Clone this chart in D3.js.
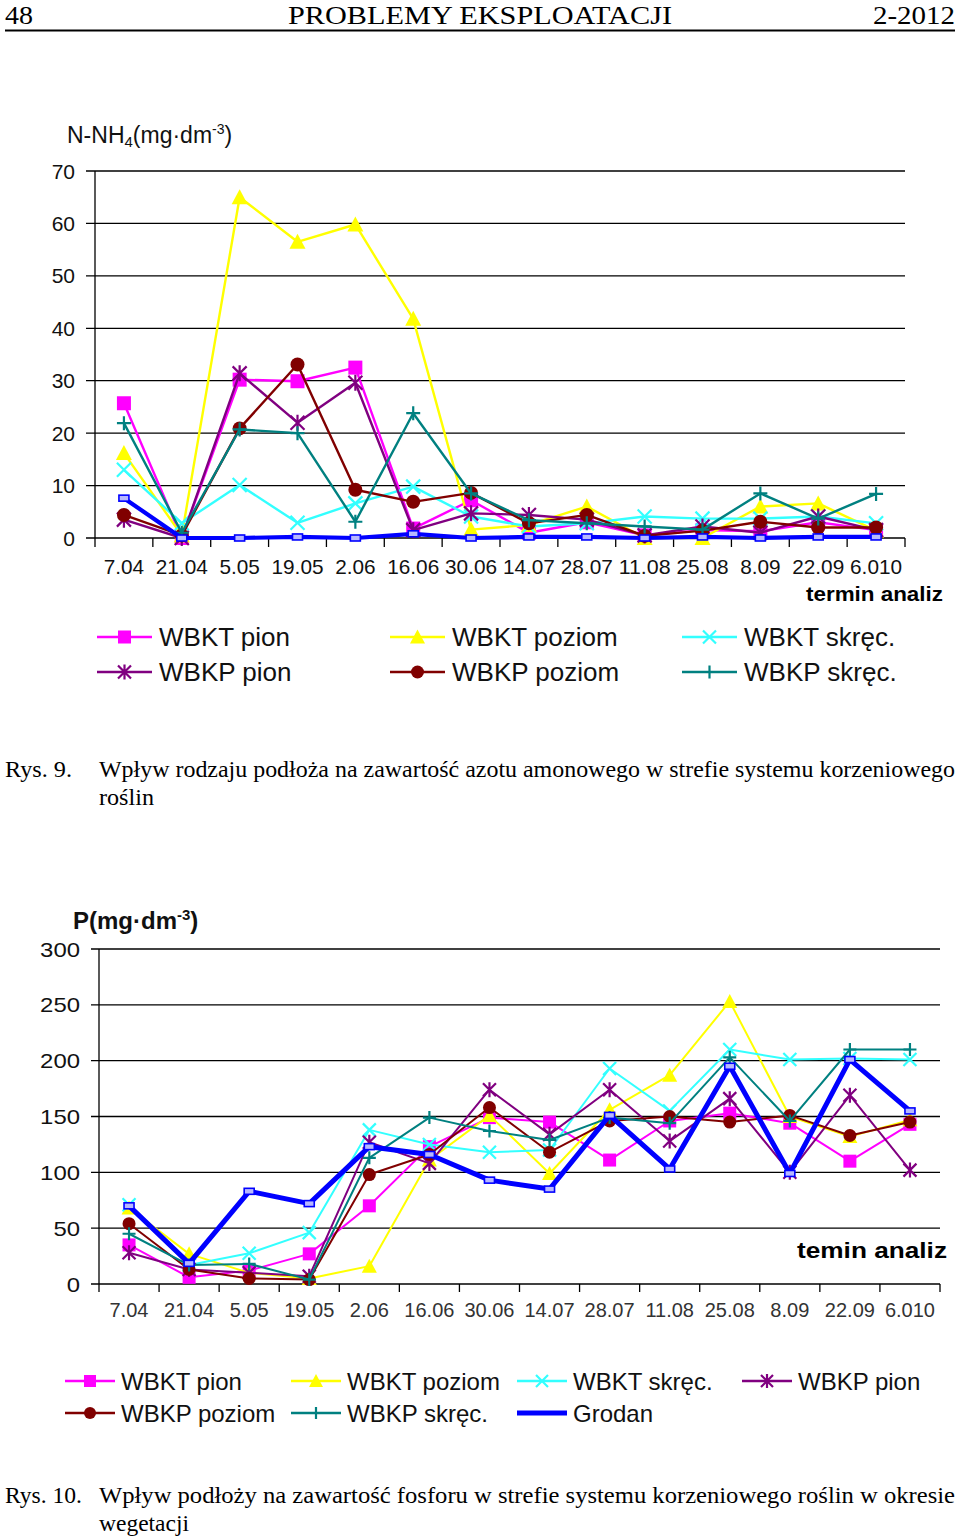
<!DOCTYPE html>
<html><head><meta charset="utf-8">
<script src="https://cdn.jsdelivr.net/npm/d3@7"></script>
<style>body{margin:0;background:#fff}svg{display:block}</style>
</head><body>
<script>
// ---------- DATA ----------
const categories = ["7.04","21.04","5.05","19.05","2.06","16.06","30.06","14.07","28.07","11.08","25.08","8.09","22.09","6.010"];
const seriesNames = ["WBKT pion","WBKT poziom","WBKT skręc.","WBKP pion","WBKP poziom","WBKP skręc.","Grodan"];
// Rys. 9: N-NH4 (mg·dm-3)
const nWbktPion   = [25.7, 0, 30.2, 29.9, 32.5, 1.8, 7.2, 1, 3, 0.5, 1.5, 1.3, 3, 1.5];
const nWbktPoziom = [16.2, 0.5, 65, 56.5, 59.8, 41.8, 1.6, 2.5, 6, 0, 0, 6, 6.6, 1.4];
const nWbktSkrec  = [13, 2.8, 10.1, 2.9, 6.6, 9.8, 4.1, 2.2, 2.8, 4.1, 3.7, 3.7, 4.1, 2.8];
const nWbkpPion   = [3.5, 0, 31.4, 22, 29.6, 1.5, 4.7, 4.4, 3.5, 0.5, 2.2, 1, 4.1, 1.5];
const nWbkpPoziom = [4.4, 0.5, 20.9, 33.1, 9.2, 6.9, 8.6, 2.8, 4.4, 0.4, 1.4, 3.1, 2, 2];
const nWbkpSkrec  = [21.9, 1, 20.7, 20, 3.1, 23.8, 8.5, 3.4, 2.8, 2.2, 1.6, 8.5, 3.7, 8.4];
const nGrodan     = [7.6, 0, 0, 0.2, 0, 0.8, 0, 0.2, 0.2, 0, 0.2, 0, 0.2, 0.2];
const nTicks = [0,10,20,30,40,50,60,70];
// Rys. 10: P (mg·dm-3)
const pWbktPion   = [35, 6, 12, 27, 70, 123, 149, 145, 111, 146, 153, 144, 110, 143];
const pWbktPoziom = [68, 27, 10, 5, 16, 111, 151, 99, 156, 187, 253, 150, 132, 147];
const pWbktSkrec  = [71, 17, 27.5, 46, 138, 125, 118, 120, 193, 155, 210, 201, 202, 201];
const pWbkpPion   = [28, 13, 10, 7, 127, 108, 174, 134, 174, 128, 166, 100, 169, 102];
const pWbkpPoziom = [54, 13, 5, 4, 98, 116, 158, 118, 146, 150, 145, 151, 133, 145];
const pWbkpSkrec  = [45, 17, 18, 4, 113, 149, 137, 129, 149, 144, 203, 146, 210, 210];
const pGrodan     = [70, 18.5, 83, 72, 123, 116, 93, 85, 151, 103, 195, 99, 201, 155];
const pTicks = [0,50,100,150,200,250,300];

// ---------- STYLE ----------
const colors  = ["#ff00ff","#ffff00","#33ffff","#800080","#800000","#008080","#0000ff"];
const markers = ["square","triangle","x","asterisk","circle","plus","dash"];
const SANS = "'Liberation Sans', Arial, sans-serif";
const SERIF = "'Liberation Serif', 'Times New Roman', serif";

const svg = d3.select("body").append("svg").attr("width",960).attr("height",1537);

function txt(x,y,s,opt){
  opt = opt||{};
  const t = svg.append("text").attr("x",x).attr("y",y).text(s)
    .attr("font-family",opt.family||SANS).attr("font-size",opt.size||20)
    .attr("fill",opt.fill||"#000");
  if(opt.weight) t.attr("font-weight",opt.weight);
  if(opt.anchor) t.attr("text-anchor",opt.anchor);
  if(opt.len){ t.attr("textLength",opt.len).attr("lengthAdjust","spacingAndGlyphs"); }
  return t;
}

function marker(g, type, cx, cy, s, color){
  const h = s/2;
  if(type==="square"){
    g.append("rect").attr("x",cx-h).attr("y",cy-h).attr("width",s).attr("height",s).attr("fill",color);
  } else if(type==="triangle"){
    g.append("path").attr("d",`M${cx},${cy-h-1}L${cx+h+1},${cy+h}L${cx-h-1},${cy+h}Z`).attr("fill",color);
  } else if(type==="circle"){
    g.append("circle").attr("cx",cx).attr("cy",cy).attr("r",h).attr("fill",color);
  } else if(type==="x" || type==="asterisk"){
    const p = `M${cx-h},${cy-h}L${cx+h},${cy+h}M${cx-h},${cy+h}L${cx+h},${cy-h}` + (type==="asterisk"?`M${cx},${cy-h-1}L${cx},${cy+h+1}`:"");
    g.append("path").attr("d",p).attr("stroke",color).attr("stroke-width",2.2).attr("fill","none");
  } else if(type==="plus"){
    g.append("path").attr("d",`M${cx-h},${cy}L${cx+h},${cy}M${cx},${cy-h}L${cx},${cy+h}`)
      .attr("stroke",color).attr("stroke-width",2.2).attr("fill","none");
  } else if(type==="dash"){
    g.append("rect").attr("x",cx-5).attr("y",cy-3).attr("width",10).attr("height",6)
      .attr("fill","#b8b8ff").attr("stroke",color).attr("stroke-width",1.6);
  }
}

function labelLen(s, digitW, dotW){
  let n=0; for(const ch of s) n += (ch==="." ? dotW : digitW); return n;
}

function chart(cfg){
  const x = d3.scaleBand().domain(categories).range([cfg.x0,cfg.x1]).padding(0);
  const y = d3.scaleLinear().domain([0,cfg.max]).range([cfg.y0,cfg.y1]);
  const g = svg.append("g");
  cfg.ticks.forEach(v=>{
    if(v>0) g.append("line").attr("x1",cfg.x0-cfg.tickL).attr("x2",cfg.x1).attr("y1",y(v)).attr("y2",y(v))
      .attr("stroke","#000").attr("stroke-width",1.3);
    const t = txt(cfg.x0-cfg.labGap, y(v)+cfg.ySize*0.36, String(v), {size:cfg.ySize, anchor:"end", fill:"#111"});
    if(cfg.yLenPerDigit) t.attr("textLength",String(v).length*cfg.yLenPerDigit).attr("lengthAdjust","spacingAndGlyphs");
  });
  g.append("line").attr("x1",cfg.x0-cfg.tickL).attr("x2",cfg.x1).attr("y1",y(0)).attr("y2",y(0)).attr("stroke","#000").attr("stroke-width",1.3);
  g.append("line").attr("x1",cfg.x0).attr("x2",cfg.x0).attr("y1",y(cfg.max)).attr("y2",y(0)+cfg.tickL).attr("stroke","#000").attr("stroke-width",1.3);
  categories.forEach(c=>{
    const xe = x(c)+x.bandwidth();
    g.append("line").attr("x1",xe).attr("x2",xe).attr("y1",y(0)).attr("y2",y(0)+cfg.tickL).attr("stroke","#000").attr("stroke-width",1.3);
    txt(x(c)+x.bandwidth()/2, cfg.xLabY, c, {size:cfg.xSize, anchor:"middle", fill:cfg.xFill,
      len: cfg.xDigitW ? labelLen(c, cfg.xDigitW, cfg.xDotW) : null});
  });
  const line = d3.line().x((d,i)=>x(categories[i])+x.bandwidth()/2).y(d=>y(d));
  cfg.series.forEach((vals,k)=>{
    const sg = g.append("g");
    sg.append("path").attr("d",line(vals)).attr("fill","none").attr("stroke",colors[k])
      .attr("stroke-width", k===6?cfg.gw:cfg.lw).attr("stroke-linejoin","round");
    vals.forEach((v,i)=>marker(sg, markers[k], x(categories[i])+x.bandwidth()/2, y(v), cfg.ms, colors[k]));
  });
}

// ---------- HEADER ----------
txt(5,23.5,"48",{family:SERIF,size:25,len:28});
txt(288,23.5,"PROBLEMY  EKSPLOATACJI",{family:SERIF,size:25,len:384});
txt(955,23.5,"2-2012",{family:SERIF,size:25,anchor:"end",len:82});
svg.append("line").attr("x1",5).attr("x2",955).attr("y1",30.5).attr("y2",30.5).attr("stroke","#000").attr("stroke-width",2);

// ---------- CHART 1 ----------
const t1 = txt(67,143,"N-NH",{size:23,fill:"#111"});
t1.append("tspan").attr("font-size",15).attr("dy",4).text("4");
t1.append("tspan").attr("dy",-4).text("(mg·dm");
t1.append("tspan").attr("font-size",14).attr("dy",-9).text("-3");
t1.append("tspan").attr("dy",9).text(")");

chart({x0:95,x1:905,y0:538,y1:171,max:70,ticks:nTicks,tickL:9,labGap:20,ySize:21,
  xLabY:574,xSize:21,xFill:"#111",xDigitW:11.6,xDotW:5.6,lw:2.4,gw:4.2,ms:14,
  series:[nWbktPion,nWbktPoziom,nWbktSkrec,nWbkpPion,nWbkpPoziom,nWbkpSkrec,nGrodan]});
txt(806,601,"termin analiz",{size:21,weight:"bold",len:137});

const leg1 = [[0,97,637],[1,390,637],[2,682,637],[3,97,672],[4,390,672],[5,682,672]];
leg1.forEach(([k,lx,ly])=>{
  const g = svg.append("g");
  g.append("line").attr("x1",lx).attr("x2",lx+55).attr("y1",ly).attr("y2",ly).attr("stroke",colors[k]).attr("stroke-width",2.6);
  marker(g, markers[k], lx+27.5, ly, 13, colors[k]);
  txt(lx+62, ly+9, seriesNames[k], {size:26, fill:"#111"});
});

txt(5,777,"Rys. 9.",{family:SERIF,size:24,len:67});
txt(99,777,"Wpływ rodzaju podłoża na zawartość azotu amonowego w strefie systemu korzeniowego",{family:SERIF,size:24,len:856});
txt(99,805,"roślin",{family:SERIF,size:24,len:55});

// ---------- CHART 2 ----------
const t2 = txt(73,929,"P(mg·dm",{size:24,weight:"bold",fill:"#111"});
t2.append("tspan").attr("font-size",15).attr("dy",-9).text("-3");
t2.append("tspan").attr("dy",9).text(")");

chart({x0:99,x1:940,y0:1284,y1:949,max:300,ticks:pTicks,tickL:8,labGap:19,ySize:21,yLenPerDigit:13.3,
  xLabY:1317,xSize:20,xFill:"#333",lw:2,gw:5,ms:13,
  series:[pWbktPion,pWbktPoziom,pWbktSkrec,pWbkpPion,pWbkpPoziom,pWbkpSkrec,pGrodan]});
txt(797,1258,"temin analiz",{size:22,weight:"bold",len:150});

const leg2 = [[0,65,1381],[1,291,1381],[2,517,1381],[3,742,1381],[4,65,1413],[5,291,1413],[6,517,1413]];
leg2.forEach(([k,lx,ly])=>{
  const g = svg.append("g");
  g.append("line").attr("x1",lx).attr("x2",lx+50).attr("y1",ly).attr("y2",ly).attr("stroke",colors[k]).attr("stroke-width",k===6?5:2.4);
  if(k!==6) marker(g, markers[k], lx+25, ly, 12, colors[k]);
  txt(lx+56, ly+9, seriesNames[k], {size:24, fill:"#111"});
});

txt(5,1503,"Rys. 10.",{family:SERIF,size:24,len:77});
txt(99,1503,"Wpływ podłoży na zawartość fosforu w strefie systemu korzeniowego roślin w okresie",{family:SERIF,size:24,len:856});
txt(99,1531,"wegetacji",{family:SERIF,size:24,len:90});
</script>
</body></html>
